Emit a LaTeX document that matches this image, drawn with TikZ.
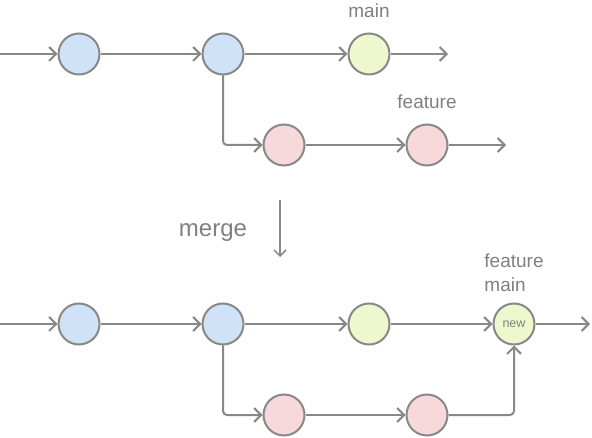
\documentclass[tikz,border=0pt]{standalone}
\usepackage{fontspec}
\setmainfont{Liberation Sans}
\usetikzlibrary{arrows.meta}

\definecolor{edgegray}{HTML}{888888}
\definecolor{textgray}{HTML}{808080}
\definecolor{bluefill}{HTML}{CFE2F7}
\definecolor{greenfill}{HTML}{EEF7CE}
\definecolor{pinkfill}{HTML}{F7D8DB}

\begin{document}
\begin{tikzpicture}[x=1pt,y=-1pt,->,>={Straight Barb[length=7pt,width=14pt]},
  color=edgegray,line width=2pt,label distance=14pt,
  commit/.style={circle,draw=edgegray,minimum size=41pt,inner sep=0pt},
  lbl/.style={text=textgray,font=\fontsize{19}{24}\selectfont,inner sep=0pt}]

  \useasboundingbox (0,0) rectangle (592,438);

  % before merge
  \coordinate (0) at (0,54);
  \node[commit,fill=bluefill] (1) at (79,54) {};
  \node[commit,fill=bluefill] (2) at (223,54) {};
  \node[commit,fill=greenfill,label={[lbl]above:main}] (3) at (369,54) {};
  \coordinate (3e) at (448,54);
  \node[commit,fill=pinkfill] (4) at (284,145) {};
  \node[commit,fill=pinkfill,label={[lbl]above:feature}] (5) at (427,145) {};
  \coordinate (5e) at (506,145);

  \path
    (0) edge (1)
    (1) edge (2)
    (2) edge (3)
    (3) edge (3e)
    (4) edge (5)
    (5) edge (5e);
  \draw[rounded corners=4pt] (2) |- (4);

  % merge
  \node[lbl,font=\fontsize{24}{28}\selectfont,anchor=base] (m) at (213,237) {merge};
  \coordinate (mt) at (280,200);
  \coordinate (mb) at (280,257);
  \draw[line width=1.5pt,>={Straight Barb[length=6pt,width=12pt]}] (mt) -- (mb);

  % after merge
  \coordinate (6) at (0,324);
  \node[commit,fill=bluefill] (7) at (79,324) {};
  \node[commit,fill=bluefill] (8) at (223,324) {};
  \node[commit,fill=greenfill] (9) at (369,324) {};
  \node[commit,fill=greenfill,text=textgray,font=\fontsize{12.5}{14}\selectfont,
    label={[lbl,align=left,label distance=10pt]above:feature\\main}] (10) at (514,324) {new};
  \coordinate (10e) at (590,324);
  \node[commit,fill=pinkfill] (11) at (284,415) {};
  \node[commit,fill=pinkfill] (12) at (427,415) {};

  \path
    (6) edge (7)
    (7) edge (8)
    (8) edge (9)
    (9) edge (10)
    (10) edge (10e)
    (11) edge (12);
  \draw[rounded corners=4pt] (8) |- (11);
  \draw[rounded corners=4pt] (12) -| (10);
\end{tikzpicture}
\end{document}
